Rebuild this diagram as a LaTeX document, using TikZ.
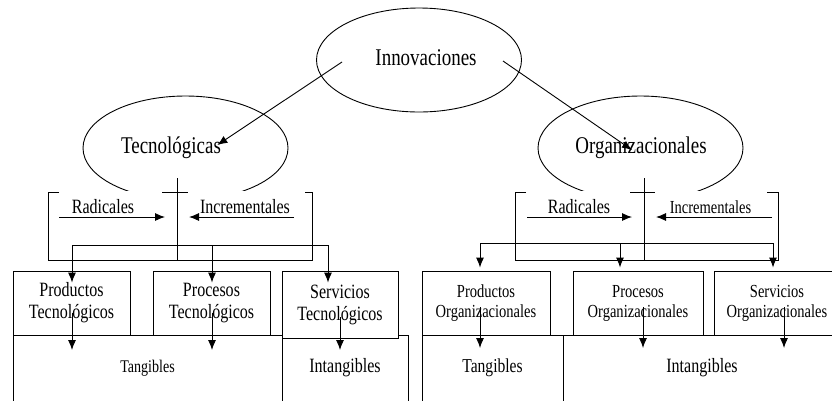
\documentclass[tikz,border=0pt]{standalone}
\usepackage{fontspec}
\setmainfont{Liberation Serif}[FakeStretch=0.79]
\usetikzlibrary{shapes.geometric, arrows.meta}
\tikzset{
	>={Latex[length=10pt,width=8pt]}, % puntas rellenas
	every node/.style={inner sep=0pt}, % sin margen en los textos
	oval/.style={draw, ellipse, minimum width=205pt, minimum height=104pt},
	caja/.style={draw, fill=white, rectangle, align=center},
	grande/.style={font=\fontsize{24}{28}\selectfont},
	textoT/.style={font=\fontsize{20.3}{22}\selectfont},
	textoO/.style={font=\fontsize{18.4}{20}\selectfont}
}

\begin{document}
\begin{tikzpicture}[x=1pt, y=-1pt, line width=0.9pt]
	\useasboundingbox (0,0) rectangle (832,400);
	\clip (0,0) rectangle (832,400);
	% elipses
	\node[oval] (innE) at (419,60) {};
	\node[grande] (inn) at (426,58) {Innovaciones};
	\begin{scope}
		\clip (0,0) rectangle (832,190);
		\node[oval] (tecE) at (185.5,148) {};
		\node[oval] (orgE) at (640.5,148) {};
	\end{scope}
	\node[grande] (tec) at (171,148) {Tecnológicas};
	\node[grande] (org) at (641,148) {Organizacionales};
	\draw[->] ([shift={(-33,4)}]inn.west) -- ([shift={(-4,-3)}]tec.east);
	\draw[->] ([shift={(26,3)}]inn.east) -- ([shift={(-9,2)}]org.center);
	% corchetes
	\draw (59,192) -- (48,192) -- (48,260) -- (312,260) -- (312,192) -- (305,192);
	\draw (177,178) -- (177,260) (162,192) -- (188,192);
	\draw (526,192) -- (515,192) -- (515,260) -- (778,260) -- (778,192) -- (767,192);
	\draw (644,178) -- (644,260) (630,192) -- (655,192);
	\coordinate (tcr) at (177,217);
	\coordinate (ocr) at (644,217);
	\draw[->] ([xshift=-118pt]tcr) -- node[above=3pt, pos=0.415, textoT] {Radicales} ([xshift=-12pt]tcr);
	\draw[->] ([xshift=117pt]tcr) -- node[above=3pt, pos=0.467, textoT] {Incrementales} ([xshift=12pt]tcr);
	\draw[->] ([xshift=-117pt]ocr) -- node[above=3pt, pos=0.495, textoT] {Radicales} ([xshift=-12pt]ocr);
	\draw[->] ([xshift=128pt]ocr) -- node[above=3pt, pos=0.53, textoO] {Incrementales} ([xshift=12pt]ocr);
	% cajas de abajo
	\node[caja, minimum width=269pt, minimum height=66pt, font=\fontsize{17.8}{20}\selectfont] (tangT) at (147.5,368) {Tangibles};
	\node[caja, minimum width=126pt, minimum height=66pt, textoT] (intT) at (345,368) {Intangibles};
	\node[caja, minimum width=141pt, minimum height=66pt, font=\fontsize{19.7}{22}\selectfont] (tangO) at (492.5,368) {Tangibles};
	\node[caja, minimum width=278pt, minimum height=66pt, textoT] (intO) at (702,368) {Intangibles};
	% cajas de arriba
	\node[caja, minimum width=117pt, minimum height=64pt, textoT] (prodT) at (71.5,303) {Productos\\Tecnológicos};
	\node[caja, minimum width=117pt, minimum height=64pt, textoT] (procT) at (211.5,303) {Procesos\\Tecnológicos};
	\node[caja, minimum width=116pt, minimum height=67pt, textoT] (servT) at (340,304.5) {Servicios\\Tecnológicos};
	\node[caja, minimum width=128pt, minimum height=64pt, textoO] (prodO) at (486,303) {Productos\\Organizacionales};
	\node[caja, minimum width=130pt, minimum height=64pt, textoO] (procO) at (638,303) {Procesos\\Organizacionales};
	\node[caja, minimum width=126pt, minimum height=64pt, textoO] (servO) at (777,303) {Servicios\\Organizacionales};
	% reparto
	\coordinate (tbus) at (177,245);
	\coordinate (obus) at (644,243);
	\draw[->] (tbus) -| ([shift={(0.5,12)}]prodT.north);
	\draw[->] (tbus) -| ([shift={(0.5,12)}]procT.north);
	\draw[->] (tbus) -| ([shift={(-12,12)}]servT.north);
	\draw[->] (obus) -| ([shift={(-6,-3)}]prodO.north);
	\draw[->] (obus) -| ([shift={(-18,-3)}]procO.north);
	\draw[->] (obus) -| ([shift={(-4,-3)}]servO.north);
	% flechas hacia abajo
	\draw[->] ([shift={(0.5,10)}]prodT.center) -- ([shift={(0.5,47)}]prodT.center);
	\draw[->] ([shift={(0.5,10)}]procT.center) -- ([shift={(0.5,47)}]procT.center);
	\draw[->] ([shift={(0,12.5)}]servT.center) -- ([shift={(0,45.5)}]servT.center);
	\draw[->] ([shift={(-6,4)}]prodO.center) -- ([shift={(-6,45)}]prodO.center);
	\draw[->] ([shift={(5,4)}]procO.center) -- ([shift={(5,45)}]procO.center);
	\draw[->] ([shift={(7,4)}]servO.center) -- ([shift={(7,45)}]servO.center);
\end{tikzpicture}
\end{document}
